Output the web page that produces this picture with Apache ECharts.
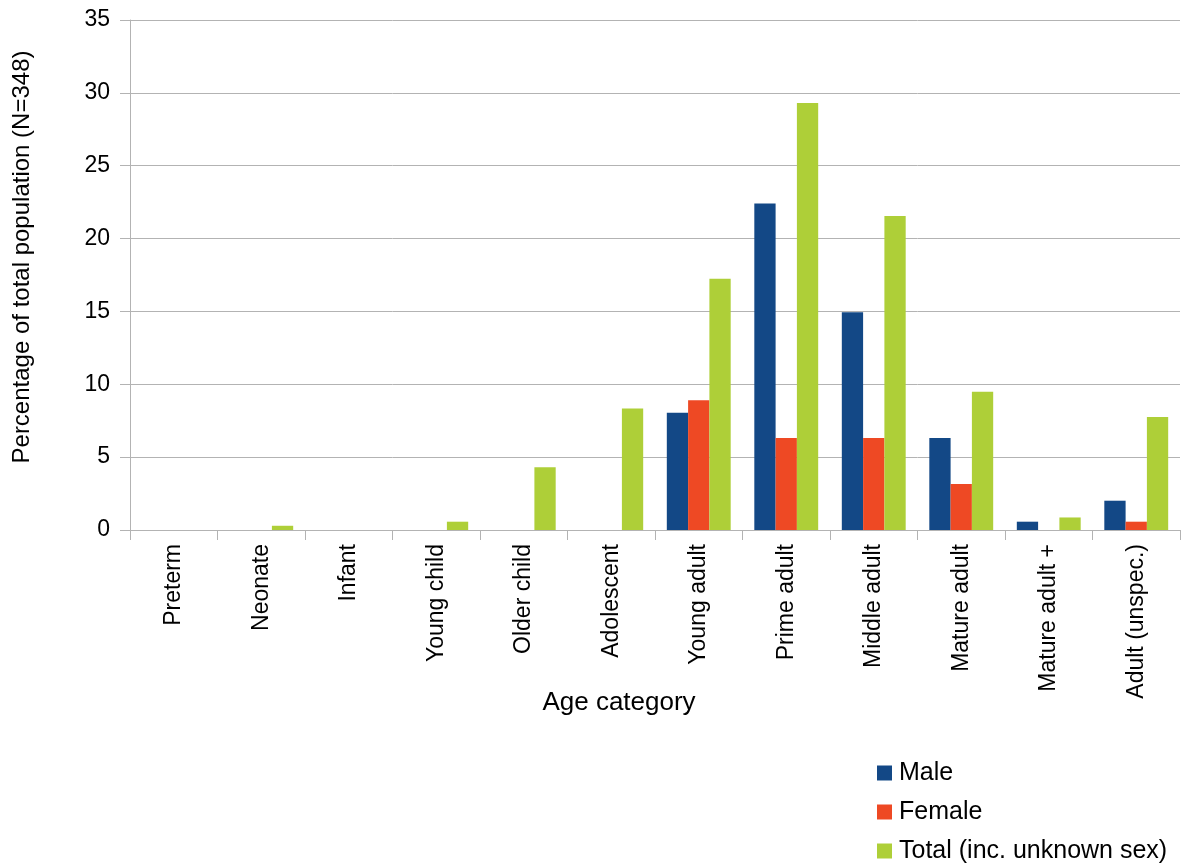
<!DOCTYPE html>
<html>
<head>
<meta charset="utf-8">
<script src="https://cdn.jsdelivr.net/npm/echarts@6/dist/echarts.min.js"></script>
<style>
  html, body { margin: 0; padding: 0; background: #fff; }
  #chart { width: 1182px; height: 866px; }
</style>
</head>
<body>
<div id="chart"></div>
<script>
// Age categories along the x axis
const categories = ['Preterm', 'Neonate', 'Infant', 'Young child', 'Older child', 'Adolescent',
  'Young adult', 'Prime adult', 'Middle adult', 'Mature adult', 'Mature adult +', 'Adult (unspec.)'];

// Percentage of total population (N=348)
const maleValues   = [0, 0, 0, 0, 0, 0, 8.05, 22.41, 14.94, 6.32, 0.57, 2.01];
const femaleValues = [0, 0, 0, 0, 0, 0, 8.91, 6.32, 6.32, 3.16, 0, 0.57];
const totalValues  = [0, 0.29, 0, 0.57, 4.31, 8.33, 17.24, 29.31, 21.55, 9.48, 0.86, 7.76];

const seriesNames = ['Male', 'Female', 'Total (inc. unknown sex)'];
const yTicks = { min: 0, max: 35, interval: 5 };

const colors = ['#134886', '#ee4924', '#aecf38'];
const font = 'Liberation Sans, Arial, sans-serif';
const gridColor = '#b3b3b3';

const chart = echarts.init(document.getElementById('chart'), null, { renderer: 'canvas' });

const barSeries = [maleValues, femaleValues, totalValues].map((vals, i) => ({
  name: seriesNames[i],
  type: 'bar',
  data: vals,
  barGap: '0%',
  barCategoryGap: '27%',
  itemStyle: { color: colors[i] },
  emphasis: { disabled: true }
}));

chart.setOption({
  animation: false,
  color: colors,
  grid: { left: 130, right: 2, top: 20, bottom: 336, containLabel: false, outerBoundsMode: 'none' },
  legend: {
    orient: 'vertical',
    left: 872,
    top: 755,
    height: 110,
    itemWidth: 15,
    itemHeight: 15,
    itemGap: 13,
    icon: 'rect',
    textStyle: { fontFamily: font, fontSize: 25, lineHeight: 26, color: '#000', padding: [0, 0, 0, 2] },
    data: seriesNames
  },
  xAxis: {
    type: 'category',
    data: categories,
    name: 'Age category',
    nameLocation: 'middle',
    nameGap: 160,
    nameMoveOverlap: false,
    nameTextStyle: { fontFamily: font, fontSize: 26, color: '#000', padding: [0, 72, 0, 0] },
    axisLine: { show: true, lineStyle: { color: gridColor, width: 1 } },
    axisTick: { show: true, length: 10, lineStyle: { color: gridColor } },
    axisLabel: {
      rotate: 90,
      interval: 0,
      margin: 14,
      fontFamily: font,
      fontSize: 23,
      color: '#000'
    }
  },
  yAxis: {
    type: 'value',
    min: yTicks.min,
    max: yTicks.max,
    interval: yTicks.interval,
    name: 'Percentage of total population (N=348)',
    nameLocation: 'middle',
    nameGap: 96,
    nameMoveOverlap: false,
    nameRotate: 90,
    nameTextStyle: { fontFamily: font, fontSize: 24, color: '#000', padding: [0, 0, 0, 36] },
    axisLine: { show: true, lineStyle: { color: gridColor, width: 1 } },
    axisTick: { show: true, length: 10, lineStyle: { color: gridColor } },
    axisLabel: { margin: 20, fontFamily: font, fontSize: 23, color: '#000' },
    splitLine: { show: true, lineStyle: { color: gridColor, width: 1 } }
  },
  series: barSeries
});
</script>
</body>
</html>
